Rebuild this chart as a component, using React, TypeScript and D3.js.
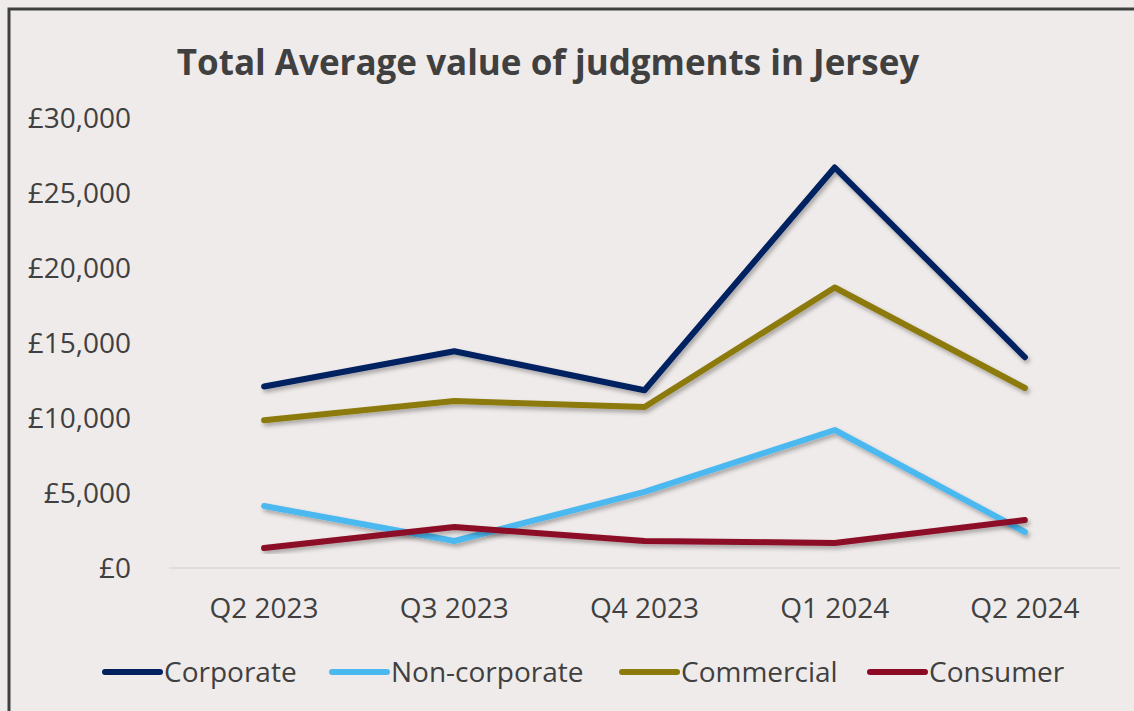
import React, { useRef, useEffect } from "react";
import * as d3 from "d3";

const categories = ["Q2 2023", "Q3 2023", "Q4 2023", "Q1 2024", "Q2 2024"];
const seriesNames = ["Corporate", "Non-corporate", "Commercial", "Consumer"];
const corporate = [12100, 14450, 11850, 26700, 14050];
const nonCorporate = [4130, 1800, 5070, 9200, 2400];
const commercial = [9850, 11130, 10730, 18700, 12000];
const consumer = [1330, 2730, 1800, 1670, 3200];
const yTicks = [0, 5000, 10000, 15000, 20000, 25000, 30000];
const colors = ["#002060", "#4BB9F0", "#8C7A0C", "#8B0A26"];

const App = () => {
  const svgRef = useRef<SVGSVGElement>(null);

  useEffect(() => {
    const width = 1134;
    const height = 711;
    const margin = { top: 118, right: 14, bottom: 143, left: 169 };
    const font = "'Open Sans', sans-serif";
    const textColor = "#404040";

    const svg = d3.select(svgRef.current);
    svg.selectAll("*").remove();
    svg.attr("width", width).attr("height", height).style("background", "#EFEBEA");

    const defs = svg.append("defs");
    const filter = defs
      .append("filter")
      .attr("id", "shadow")
      .attr("x", "-10%")
      .attr("y", "-10%")
      .attr("width", "120%")
      .attr("height", "130%");
    filter
      .append("feDropShadow")
      .attr("dx", 2)
      .attr("dy", 3)
      .attr("stdDeviation", 2)
      .attr("flood-color", "#000")
      .attr("flood-opacity", 0.3);

    // Chart frame
    svg
      .append("path")
      .attr("d", `M9,${height + 10} L9,9 L${width + 10},9`)
      .attr("fill", "none")
      .attr("stroke", "#404040")
      .attr("stroke-width", 3);

    const x = d3
      .scaleBand()
      .domain(categories)
      .range([margin.left, 1120])
      .padding(0);

    const y = d3
      .scaleLinear()
      .domain([0, 30000])
      .range([height - margin.bottom, margin.top]);

    // Baseline
    svg
      .append("line")
      .attr("x1", margin.left)
      .attr("x2", 1120)
      .attr("y1", y(0))
      .attr("y2", y(0))
      .attr("stroke", "#D9D9D9")
      .attr("stroke-width", 1.5);

    // Y axis labels
    svg
      .append("g")
      .selectAll("text")
      .data(yTicks)
      .enter()
      .append("text")
      .attr("x", 131)
      .attr("y", (d) => y(d) + 10)
      .attr("text-anchor", "end")
      .style("font-family", font)
      .style("font-size", "28px")
      .style("fill", textColor)
      .text((d) => "£" + d3.format(",")(d));

    // X axis labels
    svg
      .append("g")
      .selectAll("text")
      .data(categories)
      .enter()
      .append("text")
      .attr("x", (d) => x(d)! + x.bandwidth() / 2)
      .attr("y", 618)
      .attr("text-anchor", "middle")
      .style("font-family", font)
      .style("font-size", "28px")
      .style("fill", textColor)
      .text((d) => d);

    const allSeries = [corporate, nonCorporate, commercial, consumer];
    const line = d3
      .line<number>()
      .x((_, i) => x(categories[i])! + x.bandwidth() / 2)
      .y((d) => y(d));

    svg
      .append("g")
      .selectAll("path")
      .data(allSeries)
      .enter()
      .append("path")
      .attr("d", (d) => line(d))
      .attr("fill", "none")
      .attr("stroke", (_, i) => colors[i])
      .attr("stroke-width", 6)
      .attr("stroke-linecap", "round")
      .attr("stroke-linejoin", "round")
      .attr("filter", "url(#shadow)");

    // Title
    svg
      .append("text")
      .attr("x", 548)
      .attr("y", 75)
      .attr("text-anchor", "middle")
      .style("font-family", font)
      .style("font-size", "35px")
      .style("font-weight", "bold")
      .style("fill", textColor)
      .text("Total Average value of judgments in Jersey");

    // Legend
    const legendX = [105, 332, 622, 870];
    const legend = svg
      .append("g")
      .selectAll("g")
      .data(seriesNames)
      .enter()
      .append("g")
      .attr("transform", (_, i) => `translate(${legendX[i]},672)`);
    legend
      .append("line")
      .attr("x1", 0)
      .attr("x2", 55)
      .attr("stroke", (_, i) => colors[i])
      .attr("stroke-width", 6)
      .attr("stroke-linecap", "round");
    legend
      .append("text")
      .attr("x", 59)
      .attr("y", 10)
      .style("font-family", font)
      .style("font-size", "28px")
      .style("fill", textColor)
      .text((d) => d);
  }, []);

  return (
    <div style={{ position: "absolute", left: 0, top: 0 }}>
      <svg ref={svgRef} style={{ display: "block" }}></svg>
    </div>
  );
};

export default App;
